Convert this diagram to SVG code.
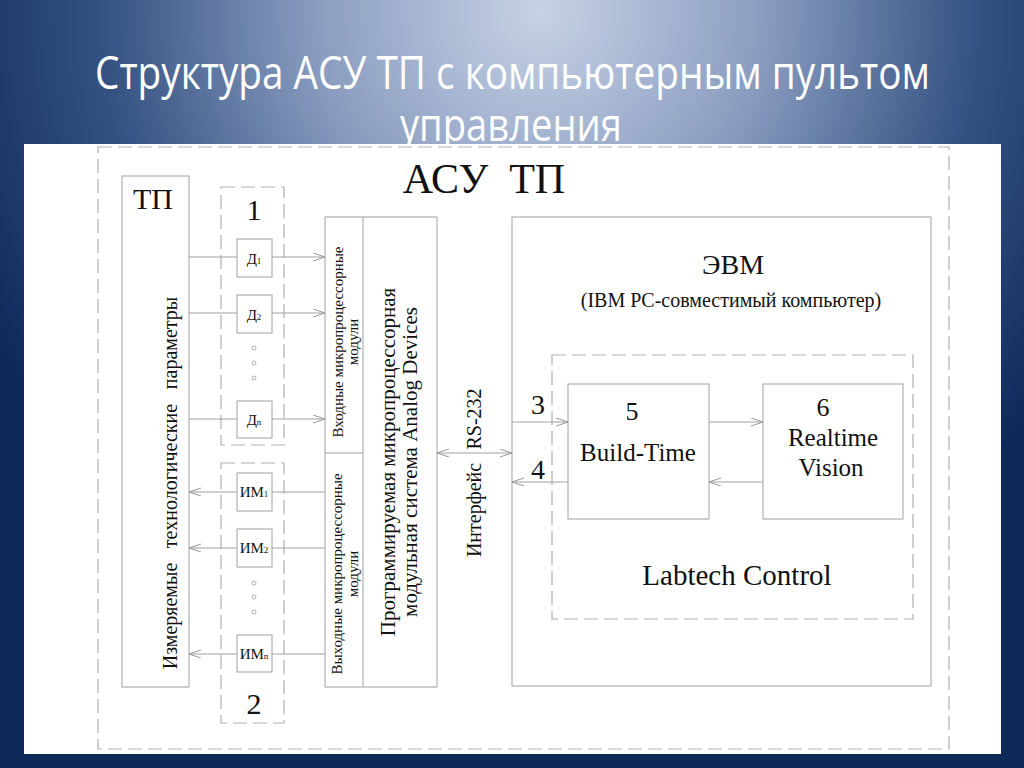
<svg xmlns="http://www.w3.org/2000/svg" width="1024" height="768" viewBox="0 0 1024 768">
<defs>
<radialGradient id="bg" gradientUnits="userSpaceOnUse" cx="540" cy="10" r="640">
<stop offset="0" stop-color="#c8d2e6"/>
<stop offset="0.35" stop-color="#8a9dc0"/>
<stop offset="0.68" stop-color="#355282"/>
<stop offset="1" stop-color="#0e2858"/>
</radialGradient>
<marker id="arr" markerWidth="14" markerHeight="10" refX="12" refY="4" orient="auto-start-reverse" markerUnits="userSpaceOnUse">
<path d="M0,0 L12,4 L0,8" fill="none" stroke="#999" stroke-width="1"/>
</marker>
<style>
.box{fill:none;stroke:#a0a0a0;stroke-width:1}
.dash{fill:none;stroke:#b0b0b0;stroke-width:1.2;stroke-dasharray:14 6}
.ln{stroke:#a0a0a0;stroke-width:1;fill:none}
.ar{stroke:#a0a0a0;stroke-width:1;fill:none;marker-end:url(#arr)}
.ar2{stroke:#a0a0a0;stroke-width:1;fill:none;marker-end:url(#arr);marker-start:url(#arr)}
.t{font-family:"Liberation Serif","Times New Roman",serif;fill:#111}
.c{text-anchor:middle}
.title{font-family:"Open Sans","Noto Sans",sans-serif;fill:#ffffff;font-size:45px}
</style>
</defs>
<rect x="0" y="0" width="1024" height="768" fill="url(#bg)"/>
<g id="title">
<text class="title" x="95" y="89" textLength="835" lengthAdjust="spacingAndGlyphs">Структура АСУ ТП с компьютерным пультом</text>
<text class="title" x="400" y="141" textLength="222" lengthAdjust="spacingAndGlyphs">управления</text>
</g>
<rect x="24" y="144" width="977" height="610" fill="#ffffff"/>
<g id="asu">
<rect class="dash" x="98" y="147" width="851" height="602"/>
<text class="t c" x="484" y="193" font-size="42" xml:space="preserve">АСУ  ТП</text>
</g>
<g id="tp">
<rect class="box" x="122" y="176" width="67" height="511"/>
<text class="t" x="133" y="209" font-size="30">ТП</text>
<text class="t c" font-size="20" transform="translate(177,616) rotate(-90)">Измеряемые</text>
<text class="t c" font-size="20" transform="translate(177,476) rotate(-90)">технологические</text>
<text class="t c" font-size="20" transform="translate(177,343) rotate(-90)">параметры</text>
</g>
<g id="group1">
<rect class="dash" x="221" y="187" width="63" height="258"/>
<text class="t c" x="254" y="220" font-size="30">1</text>
<g fill="none" stroke="#999" stroke-width="0.8">
<circle cx="254" cy="348" r="2"/><circle cx="254" cy="363" r="2"/><circle cx="254" cy="378" r="2"/>
</g>
</g>
<g id="d1"><rect class="box" x="237" y="239" width="35" height="38"/><text class="t c" x="254" y="264" font-size="15">Д<tspan font-size="9">1</tspan></text></g>
<g id="d2"><rect class="box" x="237" y="295" width="35" height="38"/><text class="t c" x="254" y="320" font-size="15">Д<tspan font-size="9">2</tspan></text></g>
<g id="dn"><rect class="box" x="237" y="401" width="35" height="37"/><text class="t c" x="254" y="425" font-size="15">Д<tspan font-size="9">n</tspan></text></g>
<g id="group2">
<rect class="dash" x="221" y="463" width="63" height="260"/>
<text class="t c" x="254" y="714" font-size="30">2</text>
<g fill="none" stroke="#999" stroke-width="0.8">
<circle cx="254" cy="583" r="2"/><circle cx="254" cy="597" r="2"/><circle cx="254" cy="612" r="2"/>
</g>
</g>
<g id="im1"><rect class="box" x="237" y="473" width="35" height="38"/><text class="t c" x="254" y="497" font-size="15">ИМ<tspan font-size="9">1</tspan></text></g>
<g id="im2"><rect class="box" x="237" y="529" width="35" height="38"/><text class="t c" x="254" y="553" font-size="15">ИМ<tspan font-size="9">2</tspan></text></g>
<g id="imn"><rect class="box" x="237" y="635" width="35" height="37"/><text class="t c" x="254" y="659" font-size="15">ИМ<tspan font-size="9">n</tspan></text></g>
<g id="modules">
<rect class="box" x="325" y="217" width="112" height="470"/>
<line class="ln" x1="363" y1="217" x2="363" y2="687"/>
<line class="ln" x1="325" y1="453" x2="363" y2="453"/>
<text class="t c" font-size="15" transform="translate(343,342) rotate(-90)">Входные микропроцессорные</text>
<text class="t c" font-size="15" transform="translate(358,342) rotate(-90)">модули</text>
<text class="t c" font-size="15" transform="translate(342,574) rotate(-90)">Выходные микропроцессорные</text>
<text class="t c" font-size="15" transform="translate(358,574) rotate(-90)">модули</text>
<text class="t c" font-size="21" transform="translate(395,462) rotate(-90)">Программируемая микропроцессорная</text>
<text class="t c" font-size="21" transform="translate(417,462) rotate(-90)">модульная система Analog Devices</text>
</g>
<g id="interface">
<text class="t c" font-size="20" transform="translate(481,419) rotate(-90)">RS-232</text>
<text class="t c" font-size="20" transform="translate(481,510) rotate(-90)">Интерфейс</text>
</g>
<g id="evm">
<rect class="box" x="512" y="217" width="419" height="469"/>
<text class="t c" x="733" y="274" font-size="28">ЭВМ</text>
<text class="t c" x="731" y="307" font-size="20">(IBM PC-совместимый компьютер)</text>
</g>
<g id="labtech">
<rect class="dash" x="552" y="355" width="361" height="264"/>
<text class="t c" x="737" y="585" font-size="29">Labtech Control</text>
</g>
<g id="box5">
<rect class="box" x="568" y="384" width="141" height="135"/>
<text class="t c" x="632" y="420" font-size="26">5</text>
<text class="t c" x="638" y="461" font-size="25">Build-Time</text>
</g>
<g id="box6">
<rect class="box" x="763" y="384" width="140" height="135"/>
<text class="t c" x="823" y="416" font-size="26">6</text>
<text class="t c" x="833" y="446" font-size="25">Realtime</text>
<text class="t c" x="831" y="476" font-size="25">Vision</text>
</g>
<g id="labels">
<text class="t c" x="538" y="414" font-size="28">3</text>
<text class="t c" x="538" y="479" font-size="28">4</text>
</g>
<g id="connectors">
<line class="ln" x1="189" y1="257" x2="237" y2="257"/>
<line class="ln" x1="189" y1="313" x2="237" y2="313"/>
<line class="ln" x1="189" y1="419" x2="237" y2="419"/>
<line class="ar" x1="272" y1="257" x2="325" y2="257"/>
<line class="ar" x1="272" y1="313" x2="325" y2="313"/>
<line class="ar" x1="272" y1="419" x2="325" y2="419"/>
<line class="ar" x1="237" y1="492" x2="189" y2="492"/>
<line class="ar" x1="237" y1="548" x2="189" y2="548"/>
<line class="ar" x1="237" y1="654" x2="189" y2="654"/>
<line class="ln" x1="325" y1="492" x2="272" y2="492"/>
<line class="ln" x1="325" y1="548" x2="272" y2="548"/>
<line class="ln" x1="325" y1="654" x2="272" y2="654"/>
<line class="ar2" x1="437" y1="453" x2="512" y2="453"/>
<line class="ar" x1="512" y1="422" x2="568" y2="422"/>
<line class="ar" x1="709" y1="422" x2="763" y2="422"/>
<line class="ar" x1="763" y1="482" x2="709" y2="482"/>
<line class="ar" x1="568" y1="482" x2="512" y2="482"/>
</g>
</svg>
